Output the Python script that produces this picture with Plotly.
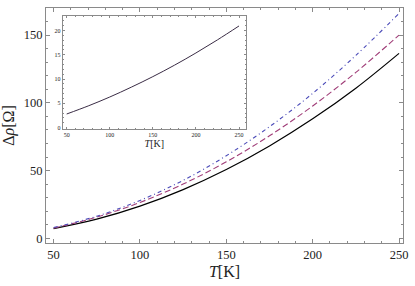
import plotly.graph_objects as go

T = [50, 75, 100, 125, 150, 175, 200, 225, 250]
rho_black = [7.2, 14.2, 23.8, 36, 50.8, 68.2, 88.2, 110.8, 136.5]
rho_red = [7.6, 15.7, 26.5, 40.1, 56.5, 75.7, 97.7, 122.5, 150]
rho_blue = [8.0, 16.4, 28, 42.8, 61, 82.4, 107, 135, 166]
inset_vals = [2.8, 4.46, 6.3, 8.33, 10.5, 12.85, 15.38, 18.08, 20.95]

main_xticks = [50, 100, 150, 200, 250]
main_yticks = [0, 50, 100, 150]
inset_xticks = [50, 100, 150, 200, 250]
inset_yticks = [0, 5, 10, 15, 20]

FONT = "Liberation Serif, Times New Roman, serif"
FRAME = "#8a8a8a"

fig = go.Figure()
fig.add_trace(go.Scatter(x=T, y=rho_black, mode="lines", line=dict(color="black", width=1.2, shape="spline")))
fig.add_trace(go.Scatter(x=T, y=rho_red, mode="lines", line=dict(color="#a03d78", width=1.1, dash="6px,3px", shape="spline")))
fig.add_trace(go.Scatter(x=T, y=rho_blue, mode="lines", line=dict(color="#4a4ab8", width=1.1, dash="4px,3px,1px,3px", shape="spline")))
fig.add_trace(go.Scatter(x=T, y=inset_vals, mode="lines", xaxis="x2", yaxis="y2",
                         line=dict(color="#3a2c45", width=1.0, shape="spline")))

def ax(**kw):
    d = dict(showgrid=False, zeroline=False, showline=True, linecolor=FRAME, linewidth=1,
             mirror="allticks", ticks="inside", tickcolor=FRAME, ticklen=4, tickwidth=1)
    d.update(kw)
    return d

fig.update_layout(
    width=415, height=286,
    margin=dict(l=45, r=9, t=7, b=43),
    paper_bgcolor="white", plot_bgcolor="white",
    showlegend=False,
    font=dict(family=FONT, color="#222"),
    xaxis=ax(range=[45.6, 252.3], tickvals=main_xticks, tickfont=dict(size=12.5),
             minor=dict(dtick=10, tick0=0, ticks="inside", ticklen=2, tickcolor=FRAME),
             title=dict(text="<i>T</i>[K]", font=dict(size=16), standoff=4)),
    yaxis=ax(range=[-3.4, 170], tickvals=main_yticks, tickfont=dict(size=12.5),
             minor=dict(dtick=10, tick0=0, ticks="inside", ticklen=2, tickcolor=FRAME),
             title=dict(text="Δ<i>ρ</i>[Ω]", font=dict(size=16), standoff=6)),
    xaxis2=ax(domain=[0.047, 0.56], anchor="y2", range=[45.5, 258], tickvals=inset_xticks,
              tickfont=dict(size=6), ticklen=2,
              minor=dict(dtick=10, tick0=0, ticks="inside", ticklen=1, tickcolor=FRAME),
              title=dict(text="<i>T</i>[K]", font=dict(size=10), standoff=2)),
    yaxis2=ax(domain=[0.487, 0.966], anchor="x2", range=[-0.2, 23], tickvals=inset_yticks,
              tickfont=dict(size=6), ticklen=2,
              minor=dict(dtick=1, tick0=0, ticks="inside", ticklen=1, tickcolor=FRAME)),
)

fig.write_html("out.html", config={"displayModeBar": False},
               post_script="document.body.style.margin='0';document.body.style.padding='0';")
